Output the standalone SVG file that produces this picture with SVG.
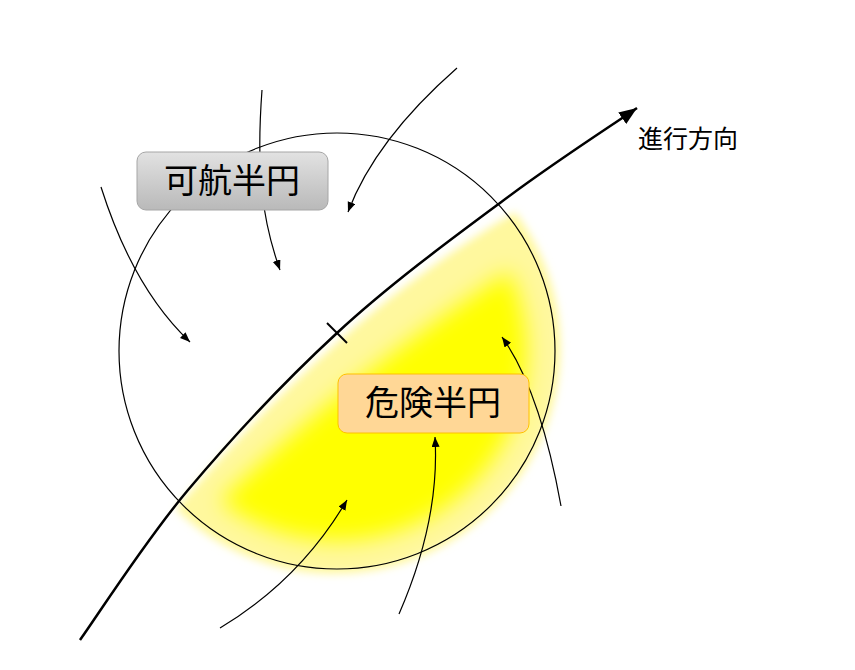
<svg xmlns="http://www.w3.org/2000/svg" width="855" height="670" viewBox="0 0 855 670">
<defs>
<style>
.txt{font-family:"Liberation Sans","Noto Sans CJK JP",sans-serif;fill:#000}
.thin{fill:none;stroke:#000;stroke-width:1.2;marker-end:url(#sm)}
</style>
<marker id="big" markerUnits="userSpaceOnUse" markerWidth="20" markerHeight="16" refX="18" refY="7" orient="auto" viewBox="0 0 20 16">
<path d="M0,0 L18,7 L0,14 Z" fill="#000"/>
</marker>
<marker id="sm" markerUnits="userSpaceOnUse" markerWidth="12" markerHeight="10" refX="10" refY="4" orient="auto" viewBox="0 0 12 10">
<path d="M0,0 L10,4 L0,8 Z" fill="#000"/>
</marker>
<linearGradient id="gray" x1="0" y1="0" x2="0" y2="1">
<stop offset="0" stop-color="#E2E2E2"/>
<stop offset="1" stop-color="#B9B9B9"/>
</linearGradient>
<filter id="soft" x="-20%" y="-20%" width="140%" height="140%">
<feGaussianBlur stdDeviation="11"/>
</filter>
<filter id="soft2" x="-20%" y="-20%" width="140%" height="140%">
<feGaussianBlur stdDeviation="4"/>
</filter>
</defs>
<rect width="855" height="670" fill="#fff"/>
<g id="danger-area">
<path d="M176,509 L186,497 C229,446 287,387 340,340 C392,293 455,248 515,212 A226 226 0 0 1 176,509 Z" fill="#FFF89E" filter="url(#soft2)"/>
<path d="M220,501 Q350,375 509,271 A190 190 0 0 1 220,501 Z" fill="#FFFF00" filter="url(#soft)"/>
</g>
<g id="circle">
<circle cx="337" cy="351" r="218" fill="none" stroke="#000" stroke-width="1.2"/>
</g>
<g id="connectors">
<path id="course" d="M80,640 C98,615 145,541 188,490 C231,439 285,381 337,333 C389,285 450,240 500,203 C550,165 614,124 637,108" fill="none" stroke="#000" stroke-width="2.5" marker-end="url(#big)"/>
<line x1="327" y1="323" x2="347" y2="343" stroke="#000" stroke-width="2"/>
<path class="thin" d="M262,90 C256,170 262,220 280,270"/>
<path class="thin" d="M457,68 Q375,140 348,212"/>
<path class="thin" d="M101,187 Q133,288 190,342"/>
<path class="thin" d="M561,506 Q540,390 502,337"/>
<path class="thin" d="M399,614 Q440,520 435,437"/>
<path class="thin" d="M220,628 Q300,580 347,500"/>
</g>
<g id="navigable">
<rect x="137" y="152" width="191" height="58" rx="9" fill="url(#gray)" stroke="#A6A6A6" stroke-width="1"/>
<text class="txt" x="232" y="193" font-size="34" text-anchor="middle">可航半円</text>
</g>
<g id="dangerous">
<rect x="338" y="374" width="191" height="59" rx="9" fill="#FFD796" stroke="#FFC000" stroke-width="1"/>
<text class="txt" x="433" y="415" font-size="34" text-anchor="middle">危険半円</text>
</g>
<g id="direction">
<text class="txt" x="638" y="148" font-size="25">進行方向</text>
</g>
</svg>
